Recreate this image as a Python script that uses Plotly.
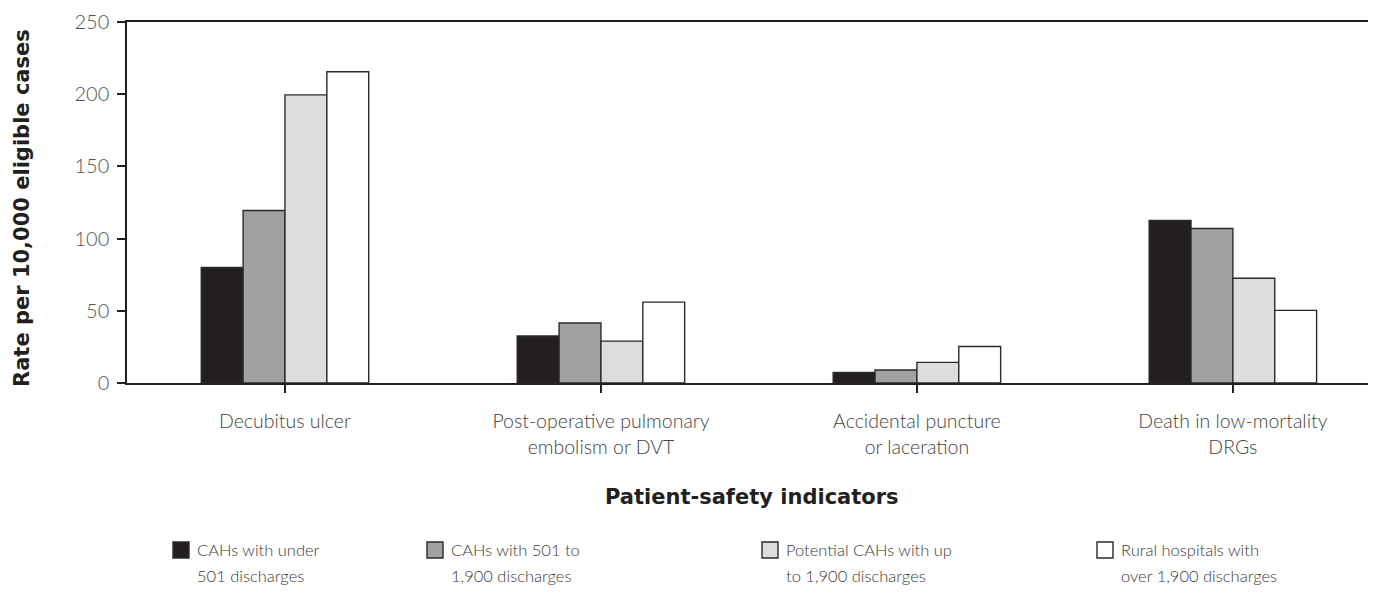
import plotly.graph_objects as go

categories = ["Decubitus ulcer", "Post-operative pulmonary<br>embolism or DVT",
              "Accidental puncture<br>or laceration", "Death in low-mortality<br>DRGs"]
series_lines = [("CAHs with under", "501 discharges"),
                ("CAHs with 501 to", "1,900 discharges"),
                ("Potential CAHs with up", "to 1,900 discharges"),
                ("Rural hospitals with", "over 1,900 discharges")]
cah_under_501 = [80, 32.5, 7.3, 112.5]
cah_501_1900 = [119.5, 41.5, 9, 107]
potential_cah = [199.5, 29, 14.3, 72.5]
rural_over_1900 = [215.5, 56, 25.3, 50.3]
y_ticks = [0, 50, 100, 150, 200, 250]

values = [cah_under_501, cah_501_1900, potential_cah, rural_over_1900]
colors = ["#231f20", "#a0a1a3", "#dcdddf", "#ffffff"]

FONT = "Lato"
BOLD = "DejaVu Sans"
OFF = 8  # page body margin offset
W, H = 1376, 593
L = 127 - OFF          # plot left in figure coords
T = 22 - OFF           # plot top
BOT = 383 - OFF        # plot bottom
R = W - (1376 - OFF)   # plot right reaches window edge
B = H - BOT
PW, PH = W - L - R, BOT - T


def px(x_ref):
    return (x_ref - OFF - L) / PW


def py(y_ref):
    return (BOT - (y_ref - OFF)) / PH


fig = go.Figure()
for (l1, l2), vals, col in zip(series_lines, values, colors):
    fig.add_trace(go.Bar(
        x=list(range(len(categories))), y=vals, name=l1 + " " + l2,
        marker=dict(color=col, line=dict(color="#2b2a2b", width=1.4)),
        showlegend=False,
    ))

fig.update_layout(
    width=W, height=H,
    margin=dict(l=L, r=R, t=T, b=B),
    paper_bgcolor="white", plot_bgcolor="white",
    barmode="group", bargap=0.47, bargroupgap=0,
    font=dict(family=FONT, color="#444444"),
    showlegend=False,
)
fig.update_xaxes(
    range=[-0.5, 3.453], automargin=False,
    tickmode="array", tickvals=list(range(len(categories))), ticktext=categories,
    tickson="boundaries", ticks="outside", ticklen=8, tickcolor="#231f20", tickwidth=1.5,
    ticklabelstandoff=12,
    showline=True, linecolor="#231f20", linewidth=1.5, mirror=True,
    showgrid=False, zeroline=False,
    tickfont=dict(family=FONT, size=19.5, color="#444444", weight=300),
)
fig.update_yaxes(
    range=[0, 250], tickvals=y_ticks, automargin=False,
    ticks="outside", ticklen=8, tickcolor="#231f20", tickwidth=1.5,
    ticklabelstandoff=4,
    showline=True, linecolor="#231f20", linewidth=1.5,
    showgrid=False, zeroline=False,
    tickfont=dict(family=FONT, size=20, color="#555555", weight=300),
)

# axis titles
fig.add_annotation(xref="paper", yref="paper", x=px(752), y=py(497),
                   text="Patient-safety indicators", showarrow=False,
                   xanchor="center", yanchor="middle",
                   font=dict(family=BOLD, size=21, color="#231f20", weight="bold"))
fig.add_annotation(xref="paper", yref="paper", x=px(22), y=py(208),
                   text="Rate per 10,000 eligible cases", showarrow=False, textangle=-90,
                   xanchor="center", yanchor="middle",
                   font=dict(family=BOLD, size=21, color="#231f20", weight="bold"))

# manual legend
leg_x = [173, 427, 762, 1097]
for (l1, l2), col, lx in zip(series_lines, colors, leg_x):
    fig.add_shape(type="rect", xref="paper", yref="paper",
                  x0=px(lx), x1=px(lx + 16),
                  y0=py(558), y1=py(542),
                  fillcolor=col, line=dict(color="#2b2a2b", width=1.4))
    for txt, yy in ((l1, 550), (l2, 576)):
        fig.add_annotation(xref="paper", yref="paper", x=px(lx + 22), y=py(yy),
                           xanchor="left", yanchor="middle",
                           text=txt, showarrow=False,
                           font=dict(family=FONT, size=16.5, color="#3a3a3a", weight=300))

fig.write_html("out.html")
